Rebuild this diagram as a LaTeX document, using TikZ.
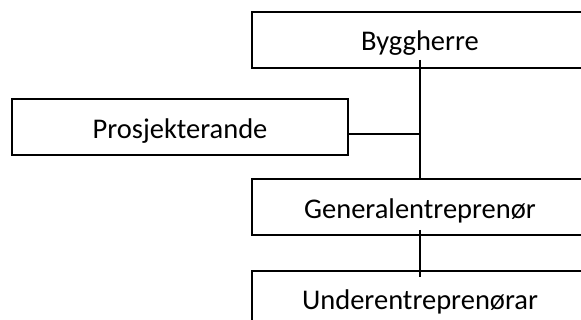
\documentclass[tikz,border=0pt]{standalone}
\usepackage{fontspec}
\setmainfont{Carlito}
\begin{document}
\begin{tikzpicture}[x=1pt,y=-1pt,
  box/.style={draw=black,line width=1.5pt,fill=white,inner sep=0pt,minimum width=336pt,minimum height=56pt},
  lbl/.style={inner sep=0pt,anchor=base,font=\fontsize{28.5}{34}\selectfont},
  conn/.style={draw=black,line width=1.5pt}]
\useasboundingbox (0,0) rectangle (581,320);
\clip (0,0) rectangle (581,320);
\node[box] (bh) at (420,40) {};
\node[box] (pr) at (180,127) {};
\node[box] (ge) at (420,207) {};
\node[box] (ue) at (420,299) {};
\node[lbl] (tbh) at (420,51) {Byggherre};
\node[lbl] (tpr) at (180,139) {Prosjekterande};
\node[lbl] (tge) at (420,219) {Generalentreprenør};
\node[lbl] (tue) at (420,310) {Underentreprenørar};
\coordinate (top) at (420,60);
\coordinate (j) at (420,134);
\coordinate (gb) at (420,230);
\coordinate (ut) at (420,277);
\draw[conn] (top) -- (ge.north);
\draw[conn] (pr.east |- j) -- (j);
\draw[conn] (gb) -- (ut);
\end{tikzpicture}
\end{document}
